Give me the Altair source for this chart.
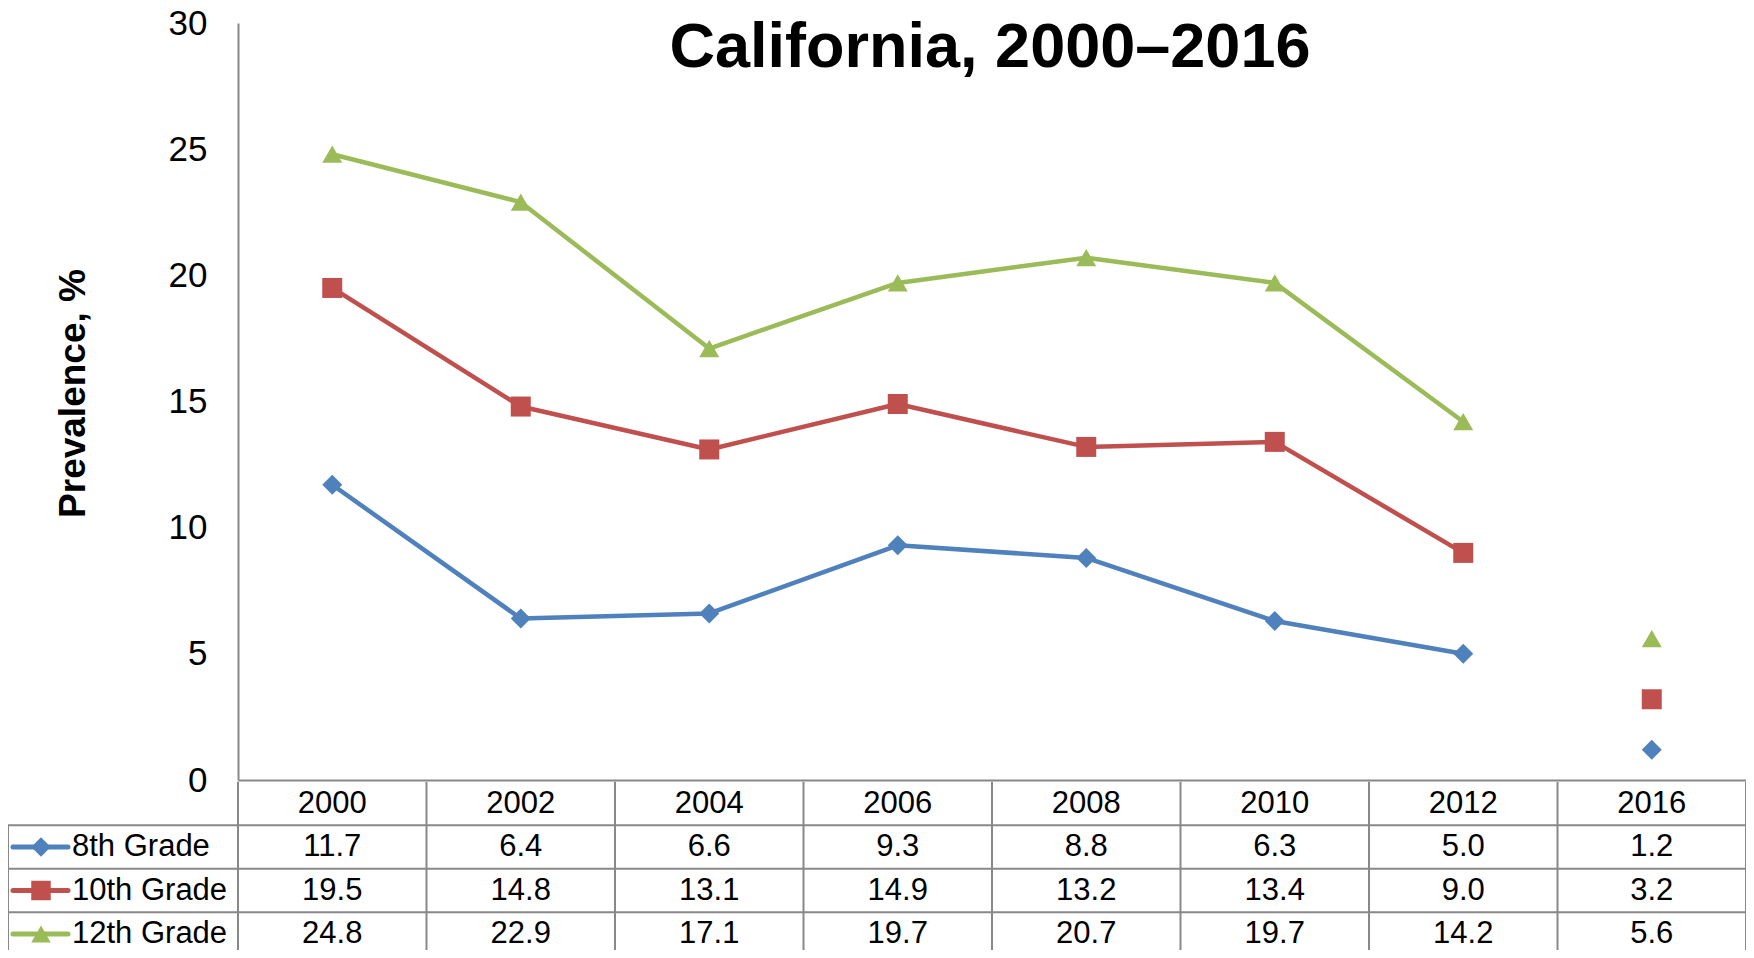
import altair as alt
import pandas as pd

title_text = "California, 2000–2016"
y_title = "Prevalence, %"
years = ["2000", "2002", "2004", "2006", "2008", "2010", "2012", "2016"]
series = ["8th Grade", "10th Grade", "12th Grade"]
grade8 = [11.7, 6.4, 6.6, 9.3, 8.8, 6.3, 5.0, 1.2]
grade10 = [19.5, 14.8, 13.1, 14.9, 13.2, 13.4, 9.0, 3.2]
grade12 = [24.8, 22.9, 17.1, 19.7, 20.7, 19.7, 14.2, 5.6]
connected = [True, True, True, True, True, True, True, False]
colors = ["#4F81BD", "#C0504D", "#9BBB59"]
shapes = ["diamond", "square", "triangle-up"]
y_ticks = [0, 5, 10, 15, 20, 25, 30]

FONT = "Liberation Sans"
GRID = "#888888"
W, H = 1508, 757

# long table of values
rows = []
for s_i, (name, vals) in enumerate(zip(series, [grade8, grade10, grade12])):
    for i, (yr, v) in enumerate(zip(years, vals)):
        rows.append({"series": name, "year": yr, "idx": i, "value": v,
                     "connected": connected[i], "row": s_i + 1})
df = pd.DataFrame(rows)
header = pd.DataFrame({"year": years, "idx": list(range(len(years))), "row": 0})
legend_df = pd.DataFrame({"series": series, "row": [1, 2, 3]})
hlines = pd.DataFrame({"r": [0.5, 1.5, 2.5]})
vlines = pd.DataFrame({"b": [i - 0.5 for i in range(len(years) + 1)], "r0": -0.5, "r1": 3.7})
left_border = pd.DataFrame({"r0": [0.5], "r1": [3.7]})
title_df = pd.DataFrame({"t": [title_text]})

x_scale = alt.Scale(domain=[-0.5, len(years) - 0.5], nice=False, zero=False)
x_axis = alt.Axis(labels=False, ticks=False, tickSize=0, title=None, grid=False,
                  domainColor=GRID, domainWidth=2)
row_scale = alt.Scale(domain=[0, 3], range=[780.5, 911], nice=False, zero=False)
color = alt.Color("series:N", scale=alt.Scale(domain=series, range=colors), legend=None)
shape = alt.Shape("series:N", scale=alt.Scale(domain=series, range=shapes), legend=None)
val_scale = alt.Scale(domain=[0, 30], nice=False, zero=True)


def X(field):
    return alt.X(field, type="quantitative", scale=x_scale, axis=x_axis)


def RY(field):
    return alt.Y(field, type="quantitative", scale=row_scale, axis=None)


lines = alt.Chart(df).transform_filter(alt.datum.connected).mark_line(
    strokeWidth=4.5, strokeCap="round", strokeJoin="round"
).encode(
    x=X("idx"),
    y=alt.Y("value:Q", scale=val_scale,
            axis=alt.Axis(values=y_ticks, grid=False, ticks=False, tickSize=0,
                          domainColor=GRID, domainWidth=2,
                          labelFont=FONT, labelFontSize=35, labelColor="black",
                          labelPadding=31,
                          title=y_title, titleFont=FONT, titleFontSize=37,
                          titleFontWeight="bold", titleColor="black",
                          titleAngle=270, titleBaseline="alphabetic",
                          titleAlign="center", titleX=-154, titleY=370)),
    color=color,
    detail="series:N",
)

points = alt.Chart(df).mark_point(filled=True, opacity=1, size=400).encode(
    x=X("idx"),
    y=alt.Y("value:Q", scale=val_scale, axis=None),
    color=color,
    shape=shape,
)

title = alt.Chart(title_df).mark_text(
    font=FONT, fontSize=63, fontWeight="bold", color="black",
    align="center", baseline="alphabetic"
).encode(text="t:N", x=alt.value(752), y=alt.value(44))

header_text = alt.Chart(header).mark_text(
    font=FONT, fontSize=31, color="black", align="center", baseline="middle"
).encode(x=X("idx"), y=RY("row"), text="year:N")

value_text = alt.Chart(df).mark_text(
    font=FONT, fontSize=31, color="black", align="center", baseline="middle"
).encode(x=X("idx"), y=RY("row"), text=alt.Text("value:Q", format=".1f"))

legend_text = alt.Chart(legend_df).mark_text(
    font=FONT, fontSize=31, color="black", align="left", baseline="middle"
).encode(x=alt.value(-166), y=RY("row"), text="series:N")

legend_lines = alt.Chart(legend_df).mark_rule(strokeWidth=5, strokeCap="round").encode(
    x=alt.value(-225), x2=alt.value(-170), y=RY("row"), color=color
)

legend_marks = alt.Chart(legend_df).mark_point(filled=True, opacity=1, size=380).encode(
    x=alt.value(-197), y=RY("row"), color=color, shape=shape
)

h_rules = alt.Chart(hlines).mark_rule(color=GRID, strokeWidth=2).encode(
    x=alt.value(-230), x2=alt.value(W), y=RY("r")
)

v_rules = alt.Chart(vlines).mark_rule(color=GRID, strokeWidth=2).encode(
    x=X("b"), y=RY("r0"), y2="r1:Q"
)

l_rule = alt.Chart(left_border).mark_rule(color=GRID, strokeWidth=2).encode(
    x=alt.value(-230), y=RY("r0"), y2="r1:Q"
)

chart = alt.layer(
    h_rules, v_rules, l_rule, lines, points, title, header_text, value_text,
    legend_lines, legend_marks, legend_text
).resolve_scale(y="independent").properties(
    width=W, height=H,
    padding={"left": 230, "top": 15, "right": 0, "bottom": 170},
    autosize=alt.AutoSizeParams(type="none"),
    background="white",
).configure_view(stroke=None)

chart.save("out.html", embed_options={"renderer": "svg", "actions": False})
